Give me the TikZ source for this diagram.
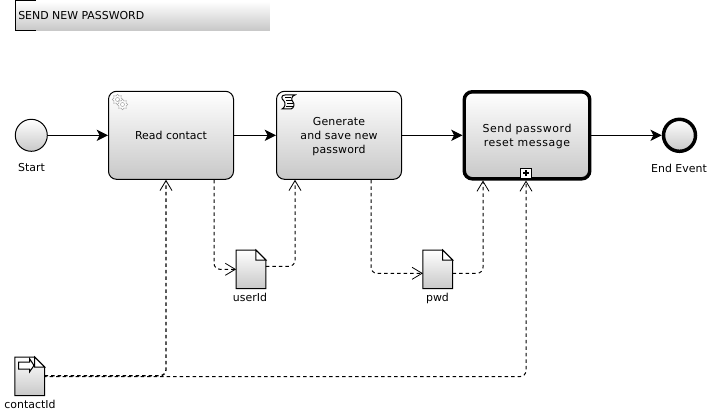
\documentclass[tikz,border=0pt]{standalone}
\usepackage{fontspec}
\setmainfont{DejaVu Sans}
\usetikzlibrary{arrows.meta,calc}
\def\pxu{0.75pt}
\definecolor{shadeend}{RGB}{200,200,200}
\newcommand{\lowered}[2]{\raisebox{-2.8pt}[18pt][18pt]{\addfontfeature{LetterSpace=#1}\begin{tabular}{@{}c@{}}#2\end{tabular}}}
\tikzset{
  x=0.75pt,y=-0.75pt,
  every node/.style={font=\fontsize{8.2pt}{10.5pt}\selectfont,text=black},
  shaded/.style={top color=white,bottom color=shadeend},
  taskbox/.style={shaded,draw=black,line width=0.75pt,rounded corners=6pt,minimum width=125*\pxu,minimum height=88*\pxu,inner sep=0pt,align=center},
  calltask/.style={taskbox,line width=2.6pt,minimum width=125.5*\pxu,minimum height=87*\pxu},
  startev/.style={circle,shaded,draw=black,line width=0.75pt,minimum size=32*\pxu,inner sep=0pt},
  endev/.style={circle,shaded,draw=black,line width=2.6pt,minimum size=32*\pxu,inner sep=0pt},
  dataspot/.style={minimum width=29.3*\pxu,minimum height=38*\pxu,inner sep=0pt},
  lbl/.style={inner sep=0pt},
  flow/.style={draw=black,line width=0.75pt,-{Stealth[length=8.5pt,width=8.5pt,inset=2.2pt]}},
  assoc/.style={draw=black,line width=0.75pt,dash pattern=on 3.5*\pxu off 3*\pxu,rounded corners=6*\pxu,-{Straight Barb[length=7.5pt,width=9pt,line width=0.6pt]}},
  dataout/.style={draw=black,line width=0.75pt,shaded}
}
\newcommand{\dataobj}[1]{%
  \path[dataout] (#1.north west) -- ([xshift=-10*\pxu]#1.north east) -- ([yshift=-10*\pxu]#1.north east) -- (#1.south east) -- (#1.south west) -- cycle;
  \draw[line width=0.75pt,fill=white] ([xshift=-10*\pxu]#1.north east) -- ([xshift=-10*\pxu,yshift=-10*\pxu]#1.north east) -- ([yshift=-10*\pxu]#1.north east) -- cycle;
}
\begin{document}
\begin{tikzpicture}
\useasboundingbox[fill=white] (0,0) rectangle (712,417);

% title
\node[shaded,minimum width=254*\pxu,minimum height=29*\pxu,inner sep=0pt,anchor=north west] (title) at (15.5,1) {};
\node[lbl,anchor=west] (titletext) at (18,15.5) {SEND NEW PASSWORD};
\draw[line width=0.75pt] ([xshift=20.5*\pxu]title.north west) -- (title.north west) -- (title.south west) -- ([xshift=20.5*\pxu]title.south west);

% events and tasks
\node[startev] (start) at (31.3,135.3) {};
\node[lbl] (startl) at (31.5,168) {Start};
\node[taskbox] (read) at (171,135.3) {Read contact};
\node[taskbox] (gen) at (339,135.3) {\lowered{1.5}{Generate\\and save new\\password}};
\node[calltask] (send) at (527,135.3) {\lowered{5}{Send password\\reset message}};
\node[endev] (end) at (679.5,135.3) {};
\node[lbl] (endl) at (679,168) {End Event};

% data objects
\node[dataspot] (userid) at (251,269.3) {};
\dataobj{userid}
\node[lbl] (useridl) at (250,297) {userId};
\node[dataspot] (pwd) at (437.8,269.3) {};
\dataobj{pwd}
\node[lbl] (pwdl) at (437.5,298) {pwd};
\node[dataspot] (cid) at (29.7,376.3) {};
\dataobj{cid}
\node[lbl] (cidl) at (30,404) {contactId};

% data input arrow
\draw[line width=0.75pt,fill=white] (18.5,362) -- (29.5,362) -- (29.5,358.5) -- (34,365.5) -- (29.5,372) -- (29.5,369) -- (18.5,369) -- cycle;

% sequence flows
\draw[flow] (start) -- (read);
\draw[flow] (read) -- (gen);
\draw[flow] (gen) -- (send);
\draw[flow] (send) -- (end);

% associations
\draw[assoc] ([xshift=43*\pxu]read.south) |- (userid.west);
\draw[assoc] ([yshift=3*\pxu]userid.east) -| ([xshift=-44*\pxu]gen.south);
\draw[assoc] ([xshift=32*\pxu]gen.south) |- ([yshift=-4*\pxu]pwd.west);
\draw[assoc] ([yshift=-4*\pxu]pwd.east) -| ([xshift=-44*\pxu]send.south);
\draw[assoc,line width=1pt] ([yshift=0.6*\pxu]cid.east) -| ([xshift=-5*\pxu]read.south);
\draw[assoc,dash phase=1.5*\pxu] ([yshift=-0.3*\pxu]cid.east) -| ([xshift=-1*\pxu]send.south);

% plus marker
\node[draw=black,line width=0.75pt,fill=white,minimum size=10.5*\pxu,inner sep=0pt,anchor=south] (plus) at (526,179.2) {};
\draw[line width=1.5pt] ([xshift=-3*\pxu]plus.center) -- ([xshift=3*\pxu]plus.center);
\draw[line width=1.5pt] ([yshift=-3*\pxu]plus.center) -- ([yshift=3*\pxu]plus.center);

% service icon
\foreach \cx/\cy/\ro/\ri in {117.5/99.5/5.3/3.8,122.5/104.5/5.3/3.8}{
  \draw[draw=gray!70,fill=white,line width=0.4pt]
    plot[samples at={0,22.5,...,337.5},smooth cycle,tension=0.1,variable=\a] ({\cx+(mod(\a,45)==0?\ro:\ri)*cos(\a)},{\cy+(mod(\a,45)==0?\ro:\ri)*sin(\a)});
  \draw[draw=gray!70,line width=0.4pt] (\cx,\cy) circle[radius=2];
}

% script icon
\draw[line width=0.75pt] (285,95) -- (295,95) .. controls (291,96) and (291,100) .. (293,102) .. controls (295,104) and (294,108) .. (291,109) -- (282,109) .. controls (285,108) and (286,103) .. (284,101) .. controls (281,99) and (281,95) .. (285,95);
\draw[line width=0.75pt] (285,98) -- (291,98) (286,101) -- (292,101) (287,104) -- (293,104) (286,106.5) -- (293,106.5);
\end{tikzpicture}
\end{document}
